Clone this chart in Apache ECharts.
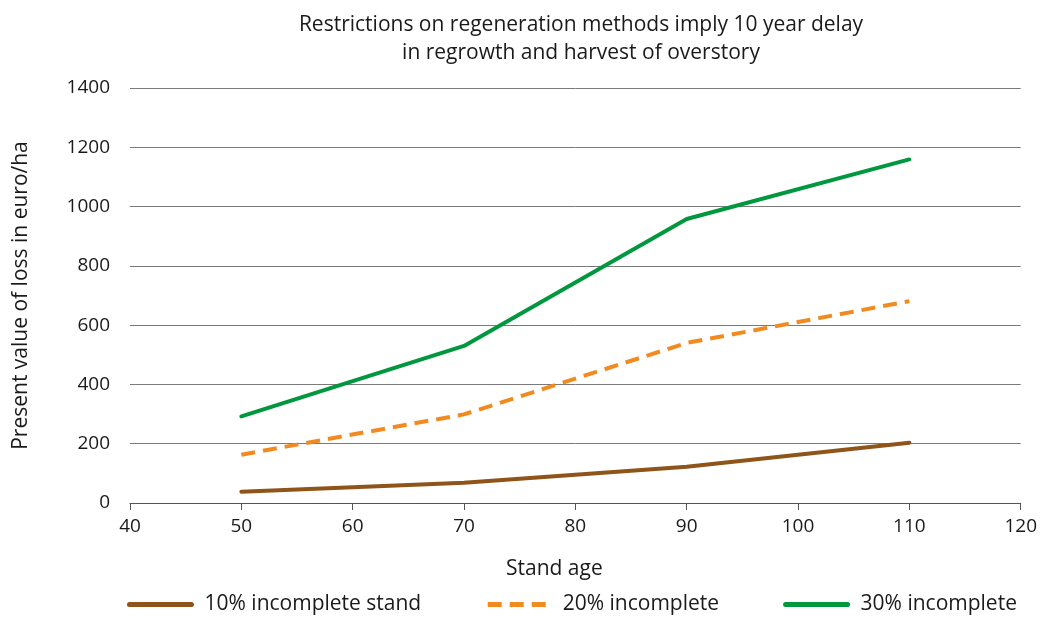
<!DOCTYPE html>
<html>
<head>
<meta charset="utf-8">
<title>Present value of loss</title>
<script src="https://cdn.jsdelivr.net/npm/echarts@6/dist/echarts.min.js"></script>
<style>
  html, body { margin: 0; padding: 0; background: #fff; }
  #chart { width: 1040px; height: 619px; }
</style>
</head>
<body>
<div id="chart"></div>
<script>
// stand age (years) at which losses were computed
const standAge = [50, 70, 90, 110]

// present value of loss, euro/ha
const loss10 = [38, 68, 122, 203]
const loss20 = [163, 299, 540, 681]
const loss30 = [292, 530, 958, 1159]

const seriesNames = ['10% incomplete stand', '20% incomplete', '30% incomplete']

const FONT = '"Open Sans", Lato, sans-serif'
const TEXT = '#1a1a1a'

const toPairs = (vals) => standAge.map((x, i) => [x, vals[i]])

const chart = echarts.init(document.getElementById('chart'))

const option = {
  backgroundColor: '#fff',
  animation: false,
  title: {
    text: 'Restrictions on regeneration methods imply 10 year delay\nin regrowth and harvest of overstory',
    left: 576,
    textAlign: 'center',
    top: 6,
    textStyle: {
      fontFamily: FONT,
      fontSize: 21,
      fontWeight: 'normal',
      color: TEXT,
      lineHeight: 28
    }
  },
  legend: {
    data: seriesNames,
    left: 122,
    bottom: -1,
    itemWidth: 62,
    itemHeight: 14,
    itemGap: 64,
    itemStyle: { opacity: 0 },
    lineStyle: { width: 5 },
    textStyle: { fontFamily: FONT, fontSize: 21, color: TEXT, padding: [0, 0, 0, 8] }
  },
  grid: {
    left: 130,
    right: 18,
    top: 88,
    bottom: 116
  },
  xAxis: {
    type: 'value',
    min: 40,
    max: 120,
    interval: 10,
    name: 'Stand age',
    nameLocation: 'middle',
    nameGap: 56,
    nameTextStyle: { fontFamily: FONT, fontSize: 21, color: TEXT, padding: [0, 42, 0, 0] },
    axisLine: { show: true, lineStyle: { color: '#555', width: 1 } },
    axisTick: { show: true, length: 7, lineStyle: { color: '#555' } },
    axisLabel: { fontFamily: FONT, fontSize: 19, color: TEXT, margin: 14 },
    splitLine: { show: false }
  },
  yAxis: {
    type: 'value',
    min: 0,
    max: 1400,
    interval: 200,
    name: 'Present value of loss in euro/ha',
    nameLocation: 'middle',
    nameGap: 98,
    nameTextStyle: { fontFamily: FONT, fontSize: 21, color: TEXT },
    axisLine: { show: false },
    axisTick: { show: false },
    axisLabel: {
      fontFamily: FONT,
      fontSize: 19,
      color: TEXT,
      margin: 20,
      formatter: (v) => String(v)
    },
    splitLine: { lineStyle: { color: '#7a7a7a', width: 1 } }
  },
  series: [
    {
      name: seriesNames[0],
      type: 'line',
      data: toPairs(loss10),
      symbol: 'none',
      color: '#8f5419',
      lineStyle: { width: 4, color: '#8f5419', cap: 'round' }
    },
    {
      name: seriesNames[1],
      type: 'line',
      data: toPairs(loss20),
      symbol: 'none',
      color: '#f18a21',
      lineStyle: { width: 4, color: '#f18a21', type: [14, 8] }
    },
    {
      name: seriesNames[2],
      type: 'line',
      data: toPairs(loss30),
      symbol: 'none',
      color: '#00973f',
      lineStyle: { width: 4, color: '#00973f', cap: 'round' }
    }
  ]
}

chart.setOption(option)

window.addEventListener('resize', () => chart.resize())
</script>
</body>
</html>
